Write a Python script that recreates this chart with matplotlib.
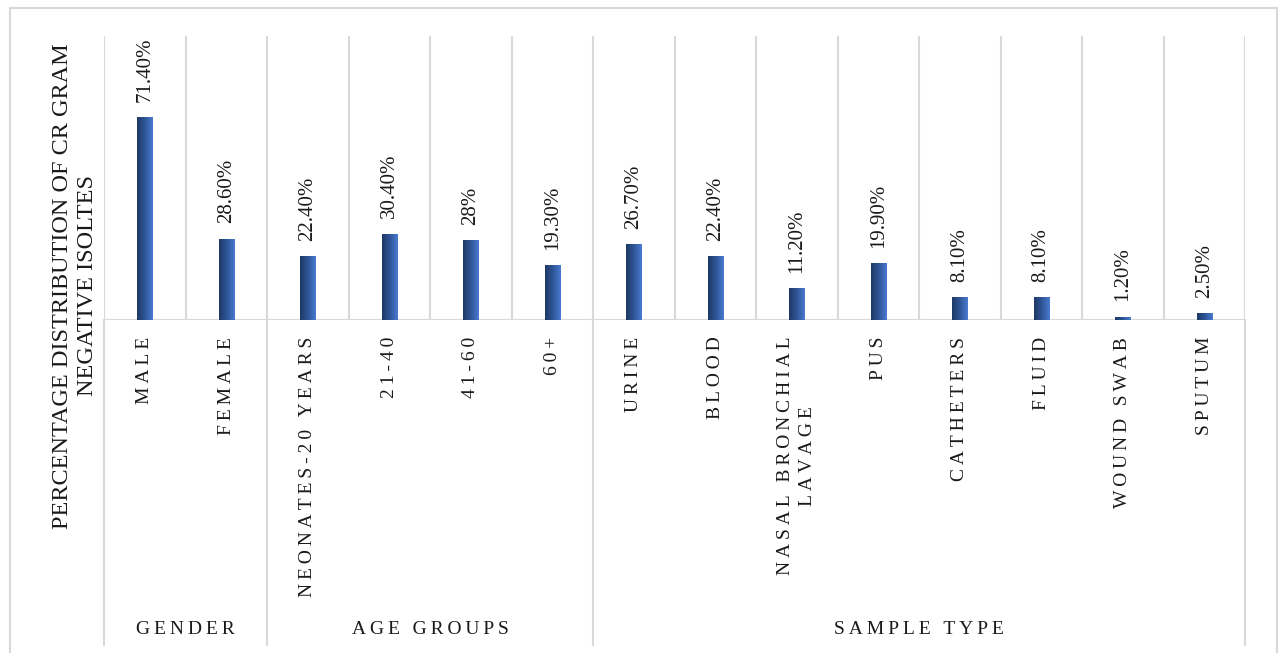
import matplotlib
matplotlib.use('Agg')
import matplotlib.pyplot as plt
import numpy as np
from matplotlib.colors import LinearSegmentedColormap
from matplotlib.lines import Line2D
import matplotlib.transforms as mtransforms

# data
categories = ['MALE', 'FEMALE', 'NEONATES-20 YEARS', '21-40', '41-60', '60+',
              'URINE', 'BLOOD', 'NASAL BRONCHIAL\nLAVAGE', 'PUS', 'CATHETERS',
              'FLUID', 'WOUND SWAB', 'SPUTUM']
values = [71.4, 28.6, 22.4, 30.4, 28.0, 19.3, 26.7, 22.4, 11.2, 19.9, 8.1, 8.1, 1.2, 2.5]
value_labels = ['71.40%', '28.60%', '22.40%', '30.40%', '28%', '19.30%', '26.70%',
                '22.40%', '11.20%', '19.90%', '8.10%', '8.10%', '1.20%', '2.50%']
groups = ['GENDER', 'AGE GROUPS', 'SAMPLE TYPE']
group_sizes = [2, 4, 8]

FONT = ['Liberation Serif', 'DejaVu Serif']
TXT = '#1a1a1a'
GRID = '#d9d9d9'

def spaced(s):
    # fake letter spacing with thin spaces
    return '\n'.join('\u2009'.join(line) for line in s.split('\n'))

fig = plt.figure(figsize=(12.82, 6.53), dpi=100)
ax = fig.add_axes([104/1282, 1-320/653, (1245-104)/1282, (320-36)/653])

x = np.arange(len(categories))
bars = ax.bar(x, values, width=0.185, color='#2F5597', zorder=3, linewidth=0)

cmap = LinearSegmentedColormap.from_list('barg', ['#1F3864', '#2E5597', '#4A7BD0'])
grad = np.linspace(0, 1, 64).reshape(1, -1)
for b in bars:
    im = ax.imshow(grad, extent=[b.get_x(), b.get_x()+b.get_width(), 0, b.get_height()],
                   aspect='auto', cmap=cmap, zorder=4)
    im.set_clip_path(b)

ax.set_xlim(-0.5, len(categories)-0.5)
ax.set_ylim(0, 100)

# gridlines between categories
ax.vlines(np.arange(-0.5, len(categories)), 0, 100, color=GRID, lw=1.5, zorder=1)
ax.axhline(0, color=GRID, lw=1.5, zorder=2)

for s in ax.spines.values():
    s.set_visible(False)
ax.set_xticks([])
ax.set_yticks([])

# value labels
for i in range(len(values)):
    ax.annotate(value_labels[i], xy=(x[i], values[i]), xytext=(0, 11), textcoords='offset points',
                rotation=90, ha='center', va='bottom', fontsize=15, family=FONT, color=TXT)

# category labels
for i in range(len(categories)):
    ax.annotate(spaced(categories[i]), xy=(x[i], 0), xytext=(0, -12), textcoords='offset points',
                rotation=90, ha='center', va='top', fontsize=14, family=FONT, color=TXT,
                multialignment='center', linespacing=1.35)

# group labels and separators
trans = mtransforms.blended_transform_factory(ax.transData, ax.transAxes)
bottom = (320-645)/284
start = -0.5
ax.plot([start, start], [0, bottom], transform=trans, clip_on=False, color=GRID, lw=1.5)
for g, n in zip(groups, group_sizes):
    end = start + n
    ax.plot([end, end], [0, bottom], transform=trans, clip_on=False, color=GRID, lw=1.5)
    ax.text((start+end)/2, (320-630)/284, spaced(g), transform=trans, ha='center', va='center',
            fontsize=14, family=FONT, color=TXT)
    start = end

# axis title
fig.text(75/1282, 1-286/653, 'PERCENTAGE DISTRIBUTION OF CR GRAM\nNEGATIVE ISOLTES',
         rotation=90, ha='center', va='center', multialignment='center',
         fontsize=17.5, family=FONT, color=TXT, linespacing=1.3)

# outer frame
fx = lambda px: px/1282
fy = lambda py: 1-py/653
fig.add_artist(Line2D([fx(10), fx(10)], [fy(8), fy(653)], color=GRID, lw=1.5))
fig.add_artist(Line2D([fx(10), fx(1277)], [fy(8), fy(8)], color=GRID, lw=1.5))
fig.add_artist(Line2D([fx(1277), fx(1277)], [fy(8), fy(653)], color=GRID, lw=1.5))

fig.savefig('out.png', dpi=100, facecolor='white')
